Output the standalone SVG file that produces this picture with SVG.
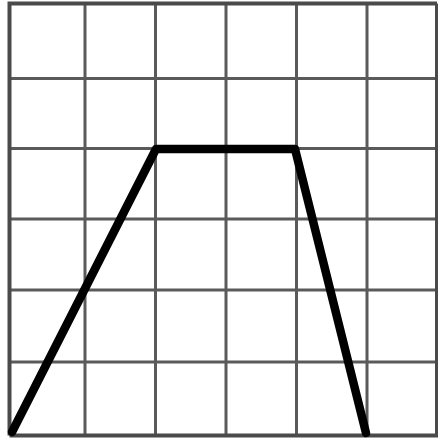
<svg xmlns="http://www.w3.org/2000/svg" width="438" height="440" viewBox="0 0 438 440">
<style>
.g{stroke:#5a5a5a;stroke-width:3;fill:none}
.b{stroke:#4a4a4a;stroke-width:4;fill:none}
.shape{stroke:#000;stroke-width:8.5;fill:none;stroke-linecap:round;stroke-linejoin:round}
</style>
<rect width="438" height="440" fill="#fff"/>
<g id="grid">
<path class="g" d="M85 3.5V435.5M155.5 3.5V435.5M226 3.5V435.5M296.5 3.5V435.5M367 3.5V435.5M9.5 78.5H438M9.5 148.5H438M9.5 219H438M9.5 290H438M9.5 362H438"/>
<path class="b" d="M9.5 435.5V3.5H437M9.5 435.5H438M437 3.5V435.5"/>
</g>
<g id="shape">
<polyline class="shape" points="12,432 156,149 295,149 366,433"/>
</g>
</svg>
